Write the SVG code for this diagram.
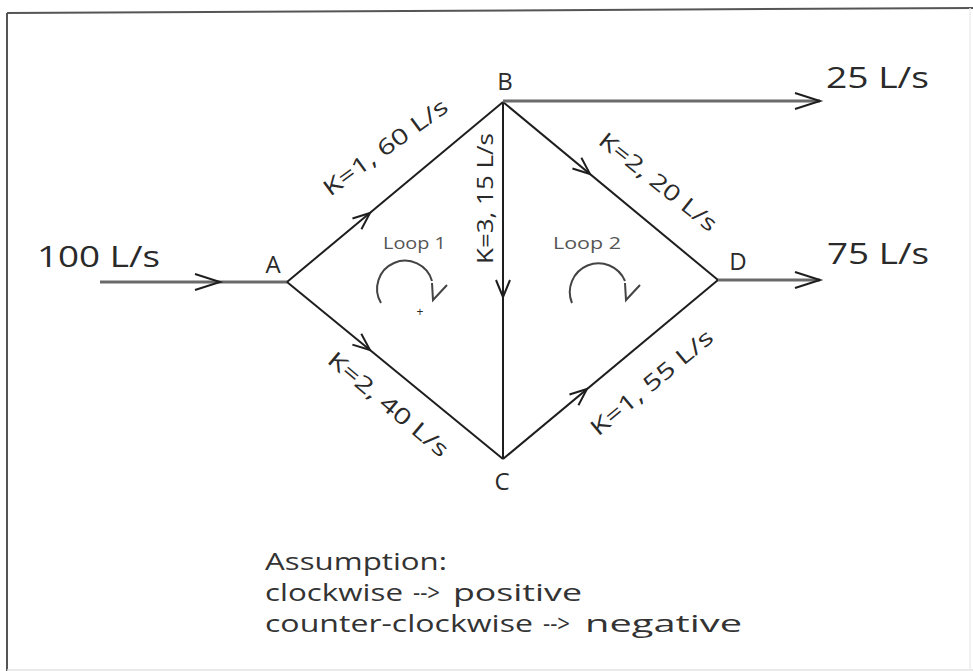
<svg xmlns="http://www.w3.org/2000/svg" width="973" height="671" viewBox="0 0 973 671">
<style>
.t{font-family:"Open Sans","Liberation Sans",sans-serif;fill:#2a2a2a}
.node{font-size:24px;text-anchor:middle}
.k{font-size:22px}
.flow{font-size:29px}
.loop{font-size:17px;fill:#555}
.note{font-size:23px;fill:#333}
.pipe{stroke:#1e1e1e;stroke-width:2;fill:none}
.flowline{stroke:#6a6a6a;stroke-width:3;fill:none}
.chev{stroke:#1e1e1e;stroke-width:2;fill:none;stroke-linejoin:miter}
.loopArc{stroke:#444;stroke-width:2;fill:none}
</style>
<defs>
<path id="chev" d="M-17,-7 L0,0 L-17,7"/>
<path id="chevL" d="M-25,-8 L0,0 L-25,8"/>
</defs>
<rect x="0" y="0" width="973" height="671" fill="#ffffff"/>
<g id="frame">
<path d="M7,13 L973,8" stroke="#555" stroke-width="2" fill="none"/>
<path d="M7,13 L7,671" stroke="#555" stroke-width="2" fill="none"/>
<path d="M7,670 L973,670" stroke="#e2e2e2" stroke-width="1.5" fill="none"/>
<path d="M970,8 L970,671" stroke="#ececec" stroke-width="1.5" fill="none"/>
</g>
<g id="connectors">
<line class="flowline" x1="100" y1="282" x2="287" y2="282"/>
<use href="#chevL" class="chev" transform="translate(220,282)"/>
<line class="pipe" x1="287" y1="282" x2="503" y2="102"/>
<use href="#chev" class="chev" transform="translate(370,213) rotate(-39.8)"/>
<line class="pipe" x1="287" y1="282" x2="503" y2="459"/>
<use href="#chev" class="chev" transform="translate(370,350) rotate(39.3)"/>
<line class="pipe" x1="503" y1="102" x2="503" y2="459" stroke-width="2.5"/>
<use href="#chev" class="chev" transform="translate(503,297) rotate(90)"/>
<line class="pipe" x1="503" y1="102" x2="718" y2="280"/>
<use href="#chev" class="chev" transform="translate(590,174) rotate(39.6)"/>
<line class="pipe" x1="503" y1="459" x2="718" y2="280"/>
<use href="#chev" class="chev" transform="translate(587,389) rotate(-39.8)"/>
<line class="flowline" x1="503" y1="101" x2="820" y2="101"/>
<use href="#chevL" class="chev" transform="translate(820,101)"/>
<line class="flowline" x1="718" y1="280" x2="820" y2="280"/>
<use href="#chevL" class="chev" transform="translate(820,280)"/>
</g>
<g id="node-A"><text class="t node" x="273" y="273">A</text></g>
<g id="node-B"><text class="t node" x="505" y="90">B</text></g>
<g id="node-C"><text class="t node" x="502" y="490">C</text></g>
<g id="node-D"><text class="t node" x="738" y="270">D</text></g>
<g id="edge-labels">
<text class="t k" transform="translate(330,197) rotate(-36)" textLength="148" lengthAdjust="spacingAndGlyphs">K=1, 60 L/s</text>
<text class="t k" transform="translate(597,143) rotate(38.5)" textLength="144" lengthAdjust="spacingAndGlyphs">K=2, 20 L/s</text>
<text class="t k" transform="translate(326,362) rotate(40)" textLength="150" lengthAdjust="spacingAndGlyphs">K=2, 40 L/s</text>
<text class="t k" transform="translate(598,437) rotate(-39.7)" textLength="152" lengthAdjust="spacingAndGlyphs">K=1, 55 L/s</text>
<text class="t k" transform="translate(493,264) rotate(-90)" textLength="131" lengthAdjust="spacingAndGlyphs">K=3, 15 L/s</text>
</g>
<g id="flows">
<text class="t flow" x="37" y="267" textLength="123" lengthAdjust="spacingAndGlyphs">100 L/s</text>
<text class="t flow" x="826" y="88" textLength="103" lengthAdjust="spacingAndGlyphs">25 L/s</text>
<text class="t flow" x="827" y="264" textLength="102" lengthAdjust="spacingAndGlyphs">75 L/s</text>
</g>
<g id="loop-1">
<text class="t loop" x="383" y="249" textLength="63" lengthAdjust="spacingAndGlyphs">Loop 1</text>
<path class="loopArc" d="M381,303 A28,28 0 1,1 432,281"/>
<path class="loopArc" d="M432,283 L433,300 L447,285"/>
<text class="t" x="420" y="316" font-size="12" fill="#777" text-anchor="middle">+</text>
</g>
<g id="loop-2">
<text class="t loop" x="553" y="249" textLength="68" lengthAdjust="spacingAndGlyphs">Loop 2</text>
<path class="loopArc" d="M572,303 A28,28 0 1,1 625,281"/>
<path class="loopArc" d="M625,283 L626,300 L640,285"/>
</g>
<g id="assumption">
<text class="t note" x="265" y="570" textLength="182" lengthAdjust="spacingAndGlyphs">Assumption:</text>
<text class="t note" x="265" y="601" textLength="138" lengthAdjust="spacingAndGlyphs">clockwise</text>
<text class="t note" x="413" y="601" textLength="27" lengthAdjust="spacingAndGlyphs">--&gt;</text>
<text class="t note" x="453" y="601" textLength="129" lengthAdjust="spacingAndGlyphs">positive</text>
<text class="t note" x="265" y="632" textLength="268" lengthAdjust="spacingAndGlyphs">counter-clockwise</text>
<text class="t note" x="543" y="632" textLength="27" lengthAdjust="spacingAndGlyphs">--&gt;</text>
<text class="t note" x="585" y="632" textLength="157" lengthAdjust="spacingAndGlyphs">negative</text>
</g>
</svg>
